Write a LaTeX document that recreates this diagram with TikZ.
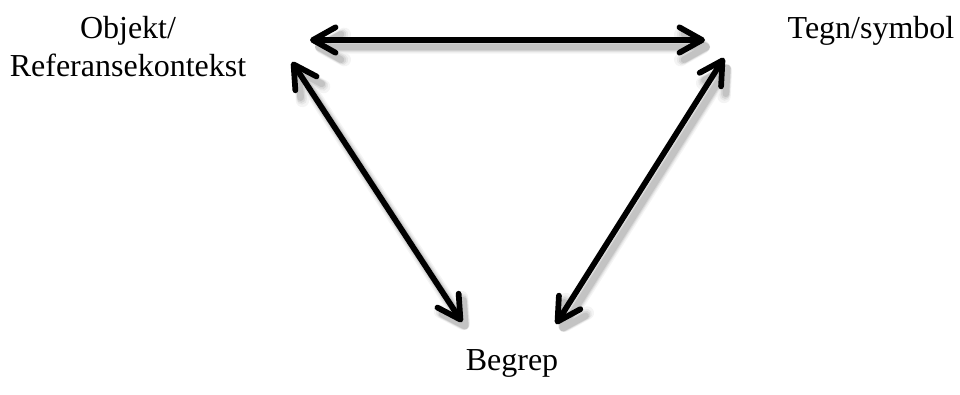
\documentclass[tikz,border=0pt]{standalone}
\usepackage{fontspec}
\setmainfont{Liberation Serif}
\usetikzlibrary{arrows.meta}
\begin{document}
\begin{tikzpicture}[x=0.75pt,y=-0.75pt,
  lbl/.style={font=\fontsize{24}{28.5}\selectfont, align=center, inner sep=0pt},
  dbl/.style={line width=4.3pt, line cap=round,
    {Straight Barb[round,length=17pt,width=19pt]}-{Straight Barb[round,length=17pt,width=19pt]}},
  shd/.style={dbl, draw=black!70, line width=#1},
]
\useasboundingbox (0,0) rectangle (960,394);
\node[lbl] (obj) at (128,47) {Objekt/\\Referansekontekst};
\node[lbl] (tegn) at (871,31) {Tegn/symbol};
\node[lbl] (beg) at (512,363) {Begrep};
\coordinate (a1) at (310,40);
\coordinate (a2) at (705,40);
\coordinate (b1) at (292,62);
\coordinate (b2) at (462,322);
\coordinate (c1) at (724,58);
\coordinate (c2) at (556,324);
% soft shadows
\foreach \w/\op in {10/0.06,8/0.08,6.5/0.1,5/0.14}{
  \begin{scope}[transparency group, opacity=\op]
    \draw[shd=\w pt] ([shift={(5,7)}]a1) -- ([shift={(5,7)}]a2);
    \draw[shd=\w pt] ([shift={(5,7)}]b1) -- ([shift={(5,7)}]b2);
    \draw[shd=\w pt] ([shift={(5,7)}]c1) -- ([shift={(5,7)}]c2);
  \end{scope}
}
\draw[dbl] (a1) -- (a2);
\draw[dbl] (b1) -- (b2);
\draw[dbl] (c1) -- (c2);
\end{tikzpicture}
\end{document}
